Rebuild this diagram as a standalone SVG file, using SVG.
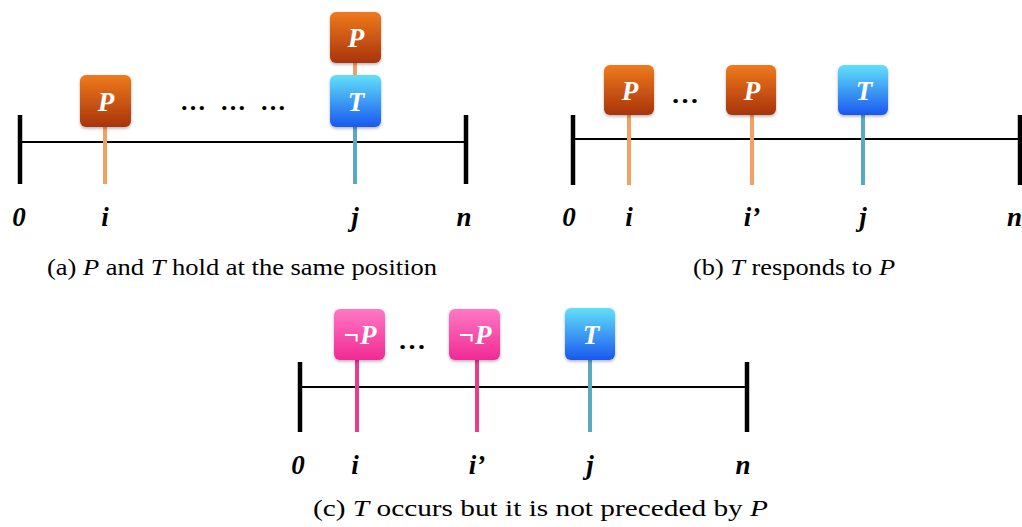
<svg xmlns="http://www.w3.org/2000/svg" width="1022" height="527" viewBox="0 0 1022 527">
  <defs>
    <linearGradient id="gP" x1="0" y1="0" x2="0" y2="1">
      <stop offset="0" stop-color="#ef7a1c"/>
      <stop offset="1" stop-color="#a8340c"/>
    </linearGradient>
    <linearGradient id="gT" x1="0" y1="0" x2="0" y2="1">
      <stop offset="0" stop-color="#62e0f8"/>
      <stop offset="1" stop-color="#1a58f0"/>
    </linearGradient>
    <linearGradient id="gN" x1="0" y1="0" x2="0" y2="1">
      <stop offset="0" stop-color="#ff78c4"/>
      <stop offset="1" stop-color="#f02a94"/>
    </linearGradient>
    <filter id="sh" x="-20%" y="-20%" width="140%" height="150%">
      <feDropShadow dx="0" dy="1.5" stdDeviation="1.5" flood-color="#000" flood-opacity="0.3"/>
    </filter>
  </defs>
  <style>
    .axis { stroke: #000; stroke-width: 2; }
    .tick { stroke: #000; stroke-width: 4.5; }
    .stemP { stroke: #f2a064; stroke-width: 4; }
    .stemT { stroke: #5aa8c2; stroke-width: 4; }
    .stemN { stroke: #ec3a8c; stroke-width: 4; }
    .box { filter: url(#sh); }
    .bl { font-family: "Liberation Serif", serif; font-style: italic; font-weight: bold; font-size: 27px; fill: #fff; text-anchor: middle; }
    .lbl { font-family: "Liberation Serif", serif; font-style: italic; font-weight: bold; font-size: 27px; fill: #000; text-anchor: middle; }
    .dots { font-family: "Liberation Serif", serif; font-weight: bold; font-size: 26px; fill: #000; }
    .cap { font-family: "Liberation Serif", serif; font-size: 23px; fill: #000; }
    .cap tspan.it { font-style: italic; }
  </style>

  <!-- Panel (a) -->
  <g id="axis-a">
    <line class="axis" x1="20" y1="142" x2="466" y2="142"/>
    <line class="tick" x1="20" y1="115" x2="20" y2="184"/>
    <line class="tick" x1="466" y1="115" x2="466" y2="184"/>
  </g>
  <g id="connectors-a">
    <line class="stemP" x1="105" y1="127" x2="105" y2="184"/>
    <line class="stemP" x1="355" y1="62" x2="355" y2="76"/>
    <line class="stemT" x1="355" y1="127" x2="355" y2="184"/>
  </g>
  <g id="a-P-i">
    <rect class="box" x="80" y="75" width="51" height="52" rx="6" fill="url(#gP)"/>
    <text class="bl" x="106" y="111">P</text>
  </g>
  <g id="a-P-j">
    <rect class="box" x="330" y="12" width="51" height="51" rx="6" fill="url(#gP)"/>
    <text class="bl" x="356" y="47">P</text>
  </g>
  <g id="a-T-j">
    <rect class="box" x="330" y="75" width="51" height="52" rx="6" fill="url(#gT)"/>
    <text class="bl" x="356" y="111">T</text>
  </g>
  <text class="dots" x="180" y="110" textLength="106" lengthAdjust="spacing">… … …</text>
  <g id="a-labels">
    <text class="lbl" x="19" y="226">0</text>
    <text class="lbl" x="105" y="226">i</text>
    <text class="lbl" x="355" y="226">j</text>
    <text class="lbl" x="464" y="226">n</text>
  </g>
  <text class="cap" x="47" y="275" textLength="390" lengthAdjust="spacingAndGlyphs">(a)  <tspan class="it">P</tspan> and <tspan class="it">T</tspan> hold at the same position</text>

  <!-- Panel (b) -->
  <g id="axis-b">
    <line class="axis" x1="573" y1="139" x2="1020" y2="139"/>
    <line class="tick" x1="573" y1="115" x2="573" y2="185"/>
    <line class="tick" x1="1020" y1="115" x2="1020" y2="185"/>
  </g>
  <g id="connectors-b">
    <line class="stemP" x1="629" y1="115" x2="629" y2="185"/>
    <line class="stemP" x1="752" y1="115" x2="752" y2="185"/>
    <line class="stemT" x1="863" y1="115" x2="863" y2="185"/>
  </g>
  <g id="b-P-i">
    <rect class="box" x="604" y="65" width="50" height="50" rx="6" fill="url(#gP)"/>
    <text class="bl" x="630" y="100">P</text>
  </g>
  <g id="b-P-i2">
    <rect class="box" x="726" y="65" width="50" height="50" rx="6" fill="url(#gP)"/>
    <text class="bl" x="752" y="100">P</text>
  </g>
  <g id="b-T-j">
    <rect class="box" x="838" y="65" width="50" height="50" rx="6" fill="url(#gT)"/>
    <text class="bl" x="864" y="100">T</text>
  </g>
  <text class="dots" x="671" y="103" textLength="28" lengthAdjust="spacingAndGlyphs">…</text>
  <g id="b-labels">
    <text class="lbl" x="569" y="226">0</text>
    <text class="lbl" x="629" y="226">i</text>
    <text class="lbl" x="752" y="226">i’</text>
    <text class="lbl" x="863" y="226">j</text>
    <text class="lbl" x="1022" y="226" style="text-anchor:end">n</text>
  </g>
  <text class="cap" x="693" y="275" textLength="202" lengthAdjust="spacingAndGlyphs">(b)  <tspan class="it">T</tspan> responds to <tspan class="it">P</tspan></text>

  <!-- Panel (c) -->
  <g id="axis-c">
    <line class="axis" x1="300" y1="387" x2="747" y2="387"/>
    <line class="tick" x1="300" y1="362" x2="300" y2="432"/>
    <line class="tick" x1="747" y1="362" x2="747" y2="432"/>
  </g>
  <g id="connectors-c">
    <line class="stemN" x1="357" y1="360" x2="357" y2="432"/>
    <line class="stemN" x1="477" y1="360" x2="477" y2="432"/>
    <line class="stemT" x1="590" y1="360" x2="590" y2="432"/>
  </g>
  <g id="c-notP-i">
    <rect class="box" x="334" y="309" width="51" height="51" rx="6" fill="url(#gN)"/>
    <text class="bl" x="360" y="344">¬P</text>
  </g>
  <g id="c-notP-i2">
    <rect class="box" x="449" y="309" width="51" height="51" rx="6" fill="url(#gN)"/>
    <text class="bl" x="475" y="344">¬P</text>
  </g>
  <g id="c-T-j">
    <rect class="box" x="565" y="308" width="50" height="52" rx="6" fill="url(#gT)"/>
    <text class="bl" x="591" y="344">T</text>
  </g>
  <text class="dots" x="398" y="349" textLength="28" lengthAdjust="spacingAndGlyphs">…</text>
  <g id="c-labels">
    <text class="lbl" x="298" y="474">0</text>
    <text class="lbl" x="355" y="474">i</text>
    <text class="lbl" x="477" y="474">i’</text>
    <text class="lbl" x="590" y="474">j</text>
    <text class="lbl" x="743" y="474">n</text>
  </g>
  <text class="cap" x="313" y="516" textLength="455" lengthAdjust="spacingAndGlyphs">(c)  <tspan class="it">T</tspan> occurs but it is not preceded by <tspan class="it">P</tspan></text>
</svg>
